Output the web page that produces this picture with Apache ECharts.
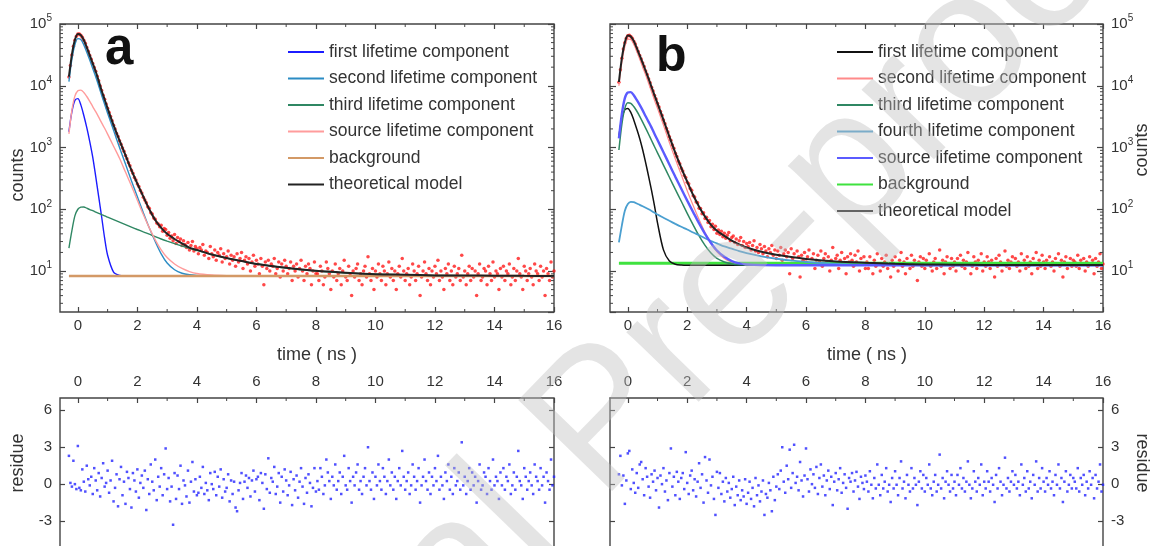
<!DOCTYPE html>
<html>
<head>
<meta charset="utf-8">
<script src="https://cdn.jsdelivr.net/npm/echarts@6/dist/echarts.min.js"></script>
<style>
  html, body { margin: 0; padding: 0; background: #fff; }
  #chart { width: 1155px; height: 546px; }
</style>
</head>
<body>
<div id="chart"></div>
<script>
// ---- axis values and tick labels ----
const TIME_MAJOR = [0, 2, 4, 6, 8, 10, 12, 14, 16];
const TIME_MINOR = [1, 3, 5, 7, 9, 11, 13, 15];
const COUNT_EXP = ['1', '2', '3', '4', '5'];
const COUNT_MINOR = [3, 4, 5, 6, 7, 8, 9, 20, 30, 40, 50, 60, 70, 80, 90,
  200, 300, 400, 500, 600, 700, 800, 900, 2000, 3000, 4000, 5000, 6000, 7000, 8000, 9000,
  20000, 30000, 40000, 50000, 60000, 70000, 80000, 90000];
const RESIDUE_TICKS = [-6, -3, 0, 3, 6];

const LEGEND_A = ['first lifetime component', 'second lifetime component', 'third lifetime component',
  'source lifetime component', 'background', 'theoretical model'];
const LEGEND_B = ['first lifetime component', 'second lifetime component', 'third lifetime component',
  'fourth lifetime component', 'source lifetime component', 'background', 'theoretical model'];

// ---- fitted curves (counts), sampled at CURVE_T (ns) ----
const CURVE_T = [-0.3, -0.2, -0.1, 0, 0.1, 0.2, 0.3, 0.4, 0.5, 0.6, 0.7, 0.8, 0.9, 1.0,
  1.2, 1.4, 1.6, 1.8, 2.0, 2.2, 2.4, 2.6, 2.8, 3.0, 3.25, 3.5, 3.75, 4.0,
  4.5, 5, 5.5, 6, 7, 8, 9, 10, 11, 12, 13, 14, 15, 16];
const BG_T = [-0.3, 16];

const A_FIRST = [1800, 3800, 5800, 6200, 4900, 3300, 2100, 1250, 700, 340, 160, 75, 34, 18,
  9.6, 8.5, 8.32, 8.3, 8.3, 8.3, 8.3, 8.3, 8.3, 8.3, 8.3, 8.3, 8.3, 8.3,
  8.3, 8.3, 8.3, 8.3, 8.3, 8.3, 8.3, 8.3, 8.3, 8.3, 8.3, 8.3, 8.3, 8.3];
const A_SECOND = [11700, 27000, 46000, 58000, 56000, 46000, 35000, 26000, 19000, 14000, 10000, 7000, 5000, 3600,
  1900, 1000, 540, 290, 160, 88, 50, 30, 19, 13.5, 10.5, 9.2, 8.7, 8.5,
  8.35, 8.3, 8.3, 8.3, 8.3, 8.3, 8.3, 8.3, 8.3, 8.3, 8.3, 8.3, 8.3, 8.3];
const A_THIRD = [23.5, 45, 78, 100, 108, 109, 104, 99, 95, 90, 86, 82, 78, 74.5,
  68, 62, 56.5, 51.5, 47, 43, 39.5, 36, 33, 30.5, 27.8, 25.4, 23.3, 21.5,
  18.5, 16.2, 14.5, 13.1, 11.2, 10.0, 9.3, 8.9, 8.65, 8.5, 8.42, 8.37, 8.34, 8.32];
const A_SOURCE = [1660, 4000, 6800, 8300, 8500, 7800, 6700, 5600, 4600, 3800, 3100, 2500, 2050, 1650,
  1050, 670, 400, 240, 140, 82, 50, 32, 22, 16.5, 13, 11, 9.8, 9.1,
  8.6, 8.4, 8.33, 8.3, 8.3, 8.3, 8.3, 8.3, 8.3, 8.3, 8.3, 8.3, 8.3, 8.3];
const A_BACKGROUND = [8.3, 8.3];
const A_MODEL = [14000, 32000, 55000, 69000, 66000, 55000, 42000, 31000, 23000, 17000, 12000, 8300, 6000, 4300,
  2300, 1300, 750, 430, 260, 160, 100, 67, 50, 40, 33, 28, 24, 22,
  18.5, 16.2, 14.5, 13, 11.3, 10.1, 9.4, 8.9, 8.7, 8.5, 8.45, 8.4, 8.35, 8.32];

const B_FIRST = [1500, 3000, 4100, 4300, 3700, 2800, 2000, 1400, 920, 570, 340, 200, 112, 60,
  22, 14.5, 12.9, 12.5, 12.4, 12.4, 12.4, 12.4, 12.4, 12.4, 12.4, 12.4, 12.4, 12.4,
  12.4, 12.4, 12.4, 12.4, 12.4, 12.4, 12.4, 12.4, 12.4, 12.4, 12.4, 12.4, 12.4, 12.4];
const B_SECOND = [10000, 24000, 43000, 57000, 56000, 47000, 36000, 27000, 20000, 15000, 11000, 8000, 5800, 4300,
  2300, 1200, 650, 360, 200, 115, 68, 42, 28, 20.5, 16, 14, 13.1, 12.7,
  12.45, 12.4, 12.4, 12.4, 12.4, 12.4, 12.4, 12.4, 12.4, 12.4, 12.4, 12.4, 12.4, 12.4];
const B_THIRD = [910, 2400, 4300, 5300, 5200, 4600, 3900, 3200, 2580, 2060, 1640, 1300, 1030, 820,
  520, 330, 210, 135, 86, 56, 37, 26, 19.5, 16, 14, 13, 12.6, 12.5,
  12.4, 12.4, 12.4, 12.4, 12.4, 12.4, 12.4, 12.4, 12.4, 12.4, 12.4, 12.4, 12.4, 12.4];
const B_FOURTH = [29, 55, 95, 122, 132, 131, 124, 118, 112, 106, 100, 94, 88, 82,
  73, 65, 58, 52, 47, 42, 38, 34, 30.5, 28, 25, 23, 21, 19.5,
  17.3, 15.8, 14.8, 14, 13.1, 12.7, 12.5, 12.4, 12.4, 12.4, 12.4, 12.4, 12.4, 12.4];
const B_SOURCE = [1400, 3500, 6300, 7800, 7900, 7000, 5900, 4900, 4000, 3200, 2600, 2100, 1650, 1320,
  840, 530, 335, 215, 138, 90, 59, 40, 28.5, 21.5, 17, 14.5, 13.3, 12.8,
  12.45, 12.4, 12.4, 12.4, 12.4, 12.4, 12.4, 12.4, 12.4, 12.4, 12.4, 12.4, 12.4, 12.4];
const B_BACKGROUND = [13.3, 13.3];
const B_MODEL = [11500, 28000, 50000, 65000, 63000, 53000, 41000, 31000, 23500, 17500, 13000, 9500, 7000, 5200,
  2800, 1500, 820, 470, 280, 170, 110, 76, 56, 45, 37, 31, 27, 24,
  20.5, 18.3, 16.8, 15.7, 14.3, 13.6, 13.1, 12.8, 12.65, 12.55, 12.5, 12.5, 12.5, 12.5];

// ---- measured spectra: one value per channel, channels start at -0.3 ns, 0.05 ns wide ----
const CHANNEL_START = -0.3;
const CHANNEL_WIDTH = 0.05;

const COUNTS_A = [
  13800, 21300, 31600, 43500, 54800, 63300, 68700, 68900, 65700, 61200,
  54800, 48700, 41800, 36200, 30900, 26800, 22900, 19700, 17100, 14200,
  12100, 9950, 8350, 7050, 6020, 5080, 4330, 3680, 3190, 2720,
  2290, 1990, 1690, 1510, 1290, 1130, 980, 870, 745, 655,
  565, 505, 428, 384, 326, 298, 257, 234, 201, 183,
  157, 141, 128, 110, 104, 88, 84, 72, 69, 60,
  58, 52, 55, 44, 49, 47, 38,
  42, 34, 37, 31, 39, 28, 35, 30, 33, 26,
  31, 27, 24, 29, 22, 26, 30, 21, 25, 23,
  19, 24, 22, 27, 18, 21, 20, 16, 25, 19,
  17, 22, 15, 20, 18, 23, 14, 19, 16, 17,
  21, 13, 18, 15, 17, 12, 19, 14, 16, 20,
  11, 15, 17, 13, 16, 10, 14, 18, 12, 15,
  13, 9, 16, 12, 6, 14, 11, 15, 10, 13,
  12, 16, 9, 11, 14, 8, 13, 10, 15, 12,
  9, 11, 14, 7, 12, 10, 13, 8, 11, 15,
  10, 7, 12, 9, 13, 11, 6, 10, 14, 9,
  9, 7, 12, 10, 6, 8, 14, 11, 9, 5, 10, 8, 13, 7, 9, 11, 6, 10, 15, 8,
  7, 12, 9, 4, 10, 8, 11, 13, 7, 9, 6, 10, 12, 8, 17, 9, 7, 11, 5, 10,
  8, 13, 9, 7, 12, 10, 6, 9, 14, 8, 11, 7, 10, 5, 9, 12, 8, 16, 10, 7,
  9, 11, 6, 8, 13, 10, 7, 9, 12, 4, 8, 10, 14, 9, 7, 11, 6, 10, 8, 12,
  9, 15, 7, 10, 8, 5, 11, 9, 13, 7, 10, 6, 12, 8, 9, 11, 7, 18, 8, 10,
  6, 9, 12, 7, 11, 8, 10, 4, 9, 13, 7, 8, 11, 10, 6, 12, 9, 7, 14, 8,
  10, 9, 5, 11, 8, 12, 7, 10, 9, 13, 6, 8, 11, 7, 10, 16, 9, 8, 5, 12,
  10, 7, 9, 11, 8, 6, 13, 10, 9, 7, 12, 8, 10, 4, 11, 9, 7, 14, 8, 10
];
const COUNTS_B = [
  11400, 18200, 27800, 39300, 49600, 58900, 64700, 65800, 62600, 58800,
  52700, 47300, 40800, 35900, 30800, 27200, 23300, 20500, 17300, 15200,
  12900, 11200, 9420, 8230, 6960, 6110, 5170, 4540, 3820, 3330,
  2780, 2430, 2030, 1780, 1490, 1310, 1100, 970, 810, 715,
  600, 545, 462, 418, 352, 327, 274, 258, 216, 203,
  165, 158, 131, 127, 104, 103, 85, 88, 71, 74,
  61, 66, 52, 57, 47, 53, 41,
  46, 39, 44, 36, 41, 34, 38, 42, 31, 35,
  37, 29, 33, 27, 31, 35, 26, 30, 24, 28,
  25, 29, 22, 26, 31, 21, 24, 20, 27, 23,
  19, 25, 21, 17, 23, 20, 26, 18, 22, 16,
  21, 18, 24, 15, 19, 22, 17, 20, 9, 23,
  16, 19, 13, 21, 17, 8, 18, 15, 20, 14,
  17, 22, 13, 16, 19, 11, 15, 18, 14, 21,
  12, 16, 19, 14, 17, 10, 15, 24, 13, 16,
  18, 11, 15, 20, 13, 16, 9, 17, 14, 19,
  15, 12, 18, 14, 21, 10, 16, 13, 17, 11,
  14, 11, 17, 13, 9, 15, 12, 19, 13, 10, 16, 12, 14, 18, 11, 13, 8, 15, 12, 17,
  13, 10, 15, 20, 12, 14, 9, 16, 13, 11, 18, 12, 15, 13, 7, 14, 17, 12, 16, 11,
  15, 13, 19, 12, 10, 14, 16, 11, 13, 22, 12, 15, 9, 14, 17, 13, 11, 16, 12, 14,
  10, 16, 13, 18, 12, 15, 11, 14, 20, 13, 9, 12, 17, 14, 11, 15, 13, 19, 10, 14,
  12, 17, 14, 11, 15, 13, 8, 16, 12, 18, 14, 10, 13, 21, 12, 15, 11, 14, 17, 13,
  16, 12, 14, 10, 19, 13, 15, 11, 17, 12, 14, 9, 16, 13, 20, 11, 15, 12, 18, 14,
  11, 15, 13, 17, 12, 14, 10, 16, 13, 19, 12, 15, 8, 14, 17, 11, 13, 16, 12, 15,
  14, 12, 18, 11, 15, 13, 16, 10, 14, 12, 17, 13, 15, 9, 16, 12, 14, 19, 11, 13
];

// ---- weighted residues of the fits, same channels ----
const RESIDUE_A = [
  2.3, 0.1, -0.2, 1.9, 0.0, -0.4, 3.1, -0.3, -0.5, 1.2,
  0.2, -0.6, 1.5, 0.4, -0.1, 0.6, -0.8, 1.3, 0.3, -0.5,
  0.9, -1.0, 0.5, 1.7, -0.2, 0.1, 1.1, -0.7, 0.3, 1.9,
  -1.4, -0.3, 0.8, -1.8, 0.4, 1.4, -0.9, 0.2, -1.6, 1.0,
  0.5, -0.4, -1.9, 0.9, 0.3, -0.6, 1.2, -1.1, 0.1, 0.7,
  -0.3, 1.1, -2.1, 0.4, -0.8, 1.6, 0.2, -0.5, 2.0, -1.3,
  0.6, -0.2, 1.3, -0.9, 0.8, 2.9, -0.4,
  0.5, -1.4, -0.2, -3.3, 0.9, -1.2, 0.7, -0.4, 1.5, -1.6,
  0.3, -0.1, -1.0, 1.1, -1.5, 0.2, 1.8, -0.6, 0.4, -0.9,
  -0.7, 0.6, -0.3, 1.4, -0.8, 0.1, -0.5, -1.3, 0.9, 0.0,
  -0.4, 1.0, -0.9, 0.6, -0.2, 1.2, -1.1, 0.4, -0.6, -0.3,
  0.8, -1.4, 0.3, -0.8, 0.2, -1.9, -2.2, -0.5, 0.1, 0.9,
  -1.2, 0.2, 0.7, -0.3, 0.5, -1.0, 0.3, 1.1, -0.6, 0.4,
  0.6, -1.3, 0.9, 0.1, -2.0, 0.8, -0.4, 2.1, -0.7, 0.5,
  0.2, 1.4, -0.8, -0.2, 0.9, -1.5, 0.6, -0.6, 1.2, 0.3,
  -0.9, -0.1, 1.0, -1.7, 0.4, -0.5, 0.7, -1.1, 0.2, 1.3,
  -0.2, -1.6, 0.5, -0.7, 0.8, 0.1, -1.8, -0.3, 1.3, -0.6,
  0.25, -0.45, 1.3, 0.6, -0.8, -0.1, 2.0, 0.95, 0.25, -1.2, 0.6, -0.1, 1.6, -0.45, 0.25, 0.95, -0.8, 0.6, 2.3, -0.1,
  -0.45, 1.3, 0.25, -1.5, 0.6, -0.1, 0.95, 1.6, -0.45, 0.25, -0.8, 0.6, 1.3, -0.1, 3.0, 0.25, -0.45, 0.95, -1.2, 0.6,
  -0.1, 1.6, 0.25, -0.45, 1.3, 0.6, -0.8, 0.25, 2.0, -0.1, 0.95, -0.45, 0.6, -1.2, 0.25, 1.3, -0.1, 2.7, 0.6, -0.45,
  0.25, 0.95, -0.8, -0.1, 1.6, 0.6, -0.45, 0.25, 1.3, -1.5, -0.1, 0.6, 2.0, 0.25, -0.45, 0.95, -0.8, 0.6, -0.1, 1.3,
  0.25, 2.3, -0.45, 0.6, -0.1, -1.2, 0.95, 0.25, 1.6, -0.45, 0.6, -0.8, 1.3, -0.1, 0.25, 0.95, -0.45, 3.4, -0.1, 0.6,
  -0.8, 0.25, 1.3, -0.45, 0.95, -0.1, 0.6, -1.5, 0.25, 1.6, -0.45, -0.1, 0.95, 0.6, -0.8, 1.3, 0.25, -0.45, 2.0, -0.1,
  0.6, 0.25, -1.2, 0.95, -0.1, 1.3, -0.45, 0.6, 0.25, 1.6, -0.8, -0.1, 0.95, -0.45, 0.6, 2.7, 0.25, -0.1, -1.2, 1.3,
  0.6, -0.45, 0.25, 0.95, -0.1, -0.8, 1.6, 0.6, 0.25, -0.45, 1.3, -0.1, 0.6, -1.5, 0.95, 0.25, -0.45, 2.0, -0.1, 0.6
];
const RESIDUE_B = [
  0.8, 2.3, -0.1, 0.7, -1.6, 0.3, 2.5, 2.7, -0.4, 1.2,
  0.1, -0.7, 0.9, -0.3, 1.6, 1.8, 0.4, -0.9, 1.3, 0.6,
  -0.2, -1.1, 0.8, 0.2, 1.1, -0.5, 0.5, -1.9, 0.7, 0.0,
  1.3, -0.6, 0.3, -1.3, 0.9, 2.9, -0.2, 0.6, -0.9, 1.0,
  0.2, -1.2, 0.5, 0.9, -0.4, 2.6, 0.1, -0.8, 0.7, 1.1,
  -0.5, 0.4, -1.0, 0.2, 1.7, -0.3, 0.8, -1.5, 2.2, 0.3,
  -0.7, 2.0, -0.1, 0.6, -1.2, -2.5, 1.0,
  -0.3, 0.9, -0.8, 0.2, -1.4, 0.5, -0.6, 0.1, -1.1, -0.4,
  0.6, -1.7, -0.2, -0.9, 0.3, -1.3, -0.5, -1.0, 0.4, -1.6,
  -0.7, 0.2, -1.2, -0.3, -1.8, 0.5, -0.9, -0.1, -1.4, -0.6,
  0.3, -2.5, -0.8, -1.1, 0.1, -0.5, -2.2, 0.6, -1.3, -0.2,
  0.8, -0.4, 1.1, 3.0, 0.2, -0.7, 1.5, 0.4, 2.8, -0.3,
  0.9, 3.2, 0.1, 0.6, -0.5, 1.8, 0.3, -1.0, 0.7, 2.9,
  0.4, -0.6, 1.2, 0.0, 0.8, -0.3, 1.4, -0.8, 0.5, 1.6,
  -0.2, 0.7, -0.9, 0.3, 1.1, -0.4, 0.6, -1.7, 0.2, 0.9,
  -0.5, 0.4, 1.3, -0.7, 0.1, 0.8, -0.3, -2.0, 0.5, 0.2,
  0.9, -0.6, 0.3, 1.0, -0.2, -1.2, 0.6, 0.1, -0.4, 0.7,
  0.2, -0.6, 1.05, -0.05, -1.15, 0.5, -0.35, 1.6, -0.05, -0.9, 0.75, -0.35, 0.2, 1.3, -0.6, -0.05, -1.45, 0.5, -0.35, 1.05,
  -0.05, -0.9, 0.5, 1.85, -0.35, 0.2, -1.15, 0.75, -0.05, -0.6, 1.3, -0.35, 0.5, -0.05, -1.7, 0.2, 1.05, -0.35, 0.75, -0.6,
  0.5, -0.05, 1.6, -0.35, -0.9, 0.2, 0.75, -0.6, -0.05, 2.4, -0.35, 0.5, -1.15, 0.2, 1.05, -0.05, -0.6, 0.75, -0.35, 0.2,
  -0.9, 0.75, -0.05, 1.3, -0.35, 0.5, -0.6, 0.2, 1.85, -0.05, -1.15, -0.35, 1.05, 0.2, -0.6, 0.5, -0.05, 1.6, -0.9, 0.2,
  -0.35, 1.05, 0.2, -0.6, 0.5, -0.05, -1.45, 0.75, -0.35, 1.3, 0.2, -0.9, -0.05, 2.15, -0.35, 0.5, -0.6, 0.2, 1.05, -0.05,
  0.75, -0.35, 0.2, -0.9, 1.6, -0.05, 0.5, -0.6, 1.05, -0.35, 0.2, -1.15, 0.75, -0.05, 1.85, -0.6, 0.5, -0.35, 1.3, 0.2,
  -0.6, 0.5, -0.05, 1.05, -0.35, 0.2, -0.9, 0.75, -0.05, 1.6, -0.35, 0.5, -1.45, 0.2, 1.05, -0.6, -0.05, 0.75, -0.35, 0.5,
  0.2, -0.35, 1.3, -0.6, 0.5, -0.05, 0.75, -0.9, 0.2, -0.35, 1.05, -0.05, 0.5, -1.15, 0.75, -0.35, 0.2, 1.6, -0.6, -0.05
];

// ---- drawing ----
const FONT = '"Liberation Sans", Arial, Helvetica, sans-serif';
const INK = '#333';
const FRAME = '#444';
const T_MIN = -0.6, T_MAX = 16;
const COUNT_MIN = 2.17, COUNT_MAX = 100000;
const RES_MIN = -6, RES_MAX = 7;
const TICK_FONT = 15;

const chart = echarts.init(document.getElementById('chart'), null, { renderer: 'canvas' });

const curve = (ts, vs) => ts.map((t, i) => [t, vs[i]]);
const channels = vs => vs.map((v, i) => [+(CHANNEL_START + i * CHANNEL_WIDTH).toFixed(2), v]);
const noLine = { show: false, onZero: false };

function timeAxis(grid, position, withLabels, margin) {
  return {
    type: 'value', gridIndex: grid, position, min: T_MIN, max: T_MAX,
    axisLine: noLine, splitLine: { show: false },
    axisTick: { show: true, inside: true, length: 5, customValues: TIME_MAJOR, lineStyle: { color: FRAME, width: 1.2 } },
    axisLabel: { show: withLabels, customValues: TIME_MAJOR, margin, fontSize: TICK_FONT, color: INK, fontFamily: FONT }
  };
}
function countAxis(grid, position, withLabels) {
  return {
    type: 'log', logBase: 10, gridIndex: grid, position, min: COUNT_MIN, max: COUNT_MAX,
    axisLine: noLine, splitLine: { show: false },
    axisTick: { show: true, inside: true, length: 6, lineStyle: { color: FRAME, width: 1.2 } },
    axisLabel: {
      show: withLabels, showMinLabel: false, margin: 8, fontSize: TICK_FONT, lineHeight: 21,
      color: INK, fontFamily: FONT,
      formatter: v => {
        const e = COUNT_EXP[Math.round(Math.log10(v)) - 1];
        return e ? '10{s|' + e + '}' : '';
      },
      rich: { s: { fontSize: 10, verticalAlign: 'top', color: INK, fontFamily: FONT } }
    }
  };
}
function residueAxis(grid, position, withLabels) {
  return {
    type: 'value', gridIndex: grid, position, min: RES_MIN, max: RES_MAX,
    axisLine: noLine, splitLine: { show: false },
    axisTick: { show: true, inside: true, length: 5, customValues: RESIDUE_TICKS, lineStyle: { color: FRAME, width: 1.2 } },
    axisLabel: { show: withLabels, customValues: RESIDUE_TICKS, margin: 8, fontSize: TICK_FONT, color: INK, fontFamily: FONT }
  };
}

// short inward ticks: odd ns on top/bottom edges, 2..9 x 10^k on left/right edges
function minorTicks(xi, yi, anchorY, yValues) {
  const data = TIME_MINOR.map(v => [v, anchorY, 0]).concat(yValues.map(v => [0, v, 1]));
  return {
    type: 'custom', xAxisIndex: xi, yAxisIndex: yi, silent: true, z: 4, clip: false, data,
    renderItem(params, api) {
      const cs = params.coordSys;
      const p = api.coord([api.value(0), api.value(1)]);
      const st = { stroke: FRAME, lineWidth: 1 };
      if (api.value(2) === 0) {
        return { type: 'group', children: [
          { type: 'line', shape: { x1: p[0], y1: cs.y, x2: p[0], y2: cs.y + 3 }, style: st },
          { type: 'line', shape: { x1: p[0], y1: cs.y + cs.height, x2: p[0], y2: cs.y + cs.height - 3 }, style: st }
        ] };
      }
      return { type: 'group', children: [
        { type: 'line', shape: { x1: cs.x, y1: p[1], x2: cs.x + 3, y2: p[1] }, style: st },
        { type: 'line', shape: { x1: cs.x + cs.width, y1: p[1], x2: cs.x + cs.width - 3, y2: p[1] }, style: st }
      ] };
    }
  };
}

function fitLine(panel, name, xi, yi, ts, vs, color, width) {
  return {
    type: 'line', name: panel + '|' + name, xAxisIndex: xi, yAxisIndex: yi,
    data: curve(ts, vs), symbol: 'none', showSymbol: false, smooth: 0.3, silent: true, z: 3,
    lineStyle: { color, width }, itemStyle: { color }
  };
}

const legendBase = {
  orient: 'vertical', itemWidth: 36, itemHeight: 16, itemGap: 8.5, padding: 0, selectedMode: false,
  itemStyle: { opacity: 0 },
  textStyle: { fontSize: 17.5, color: INK, fontFamily: FONT },
  formatter: n => n.split('|')[1]
};

const option = {
  animation: false,
  backgroundColor: '#fff',
  grid: [
    { left: 60, top: 24, width: 494, height: 288 },
    { left: 610, top: 24, width: 493, height: 288 },
    { left: 60, top: 398, width: 494, height: 160 },
    { left: 610, top: 398, width: 493, height: 160 }
  ].map(g => Object.assign({ show: true, borderColor: FRAME, borderWidth: 1.4, backgroundColor: 'transparent',
    outerBoundsMode: 'none', containLabel: false }, g)),
  xAxis: [
    timeAxis(0, 'bottom', true, 6), timeAxis(0, 'top', false, 6),
    timeAxis(1, 'bottom', true, 6), timeAxis(1, 'top', false, 6),
    timeAxis(2, 'top', true, 9), timeAxis(2, 'bottom', false, 6),
    timeAxis(3, 'top', true, 9), timeAxis(3, 'bottom', false, 6)
  ],
  yAxis: [
    countAxis(0, 'left', true), countAxis(0, 'right', false),
    countAxis(1, 'right', true), countAxis(1, 'left', false),
    residueAxis(2, 'left', true), residueAxis(2, 'right', false),
    residueAxis(3, 'right', true), residueAxis(3, 'left', false)
  ],
  legend: [
    Object.assign({ left: 287, top: 43, data: LEGEND_A.map(n => 'a|' + n) }, legendBase),
    Object.assign({ left: 836, top: 43, data: LEGEND_B.map(n => 'b|' + n) }, legendBase)
  ],
  series: [
    // panel a
    { type: 'scatter', xAxisIndex: 0, yAxisIndex: 0, data: channels(COUNTS_A), symbol: 'circle',
      symbolSize: 3.5, itemStyle: { color: '#ff1a1a' }, silent: true, z: 2 },
    fitLine('a', LEGEND_A[0], 0, 0, CURVE_T, A_FIRST, '#1c1cff', 1.4),
    fitLine('a', LEGEND_A[1], 0, 0, CURVE_T, A_SECOND, '#2b8cc4', 1.4),
    fitLine('a', LEGEND_A[2], 0, 0, CURVE_T, A_THIRD, '#2f8763', 1.4),
    fitLine('a', LEGEND_A[3], 0, 0, CURVE_T, A_SOURCE, '#ff9c9c', 1.4),
    fitLine('a', LEGEND_A[4], 0, 0, BG_T, A_BACKGROUND, '#d39966', 2.6),
    fitLine('a', LEGEND_A[5], 0, 0, CURVE_T, A_MODEL, '#222222', 2),
    minorTicks(0, 0, 100, COUNT_MINOR),
    // panel b
    { type: 'scatter', xAxisIndex: 2, yAxisIndex: 2, data: channels(COUNTS_B), symbol: 'circle',
      symbolSize: 3.5, itemStyle: { color: '#ff1a1a' }, silent: true, z: 2 },
    fitLine('b', LEGEND_B[5], 2, 2, BG_T, B_BACKGROUND, '#3fe23f', 3),
    fitLine('b', LEGEND_B[0], 2, 2, CURVE_T, B_FIRST, '#111111', 1.5),
    fitLine('b', LEGEND_B[1], 2, 2, CURVE_T, B_SECOND, '#ff8a8a', 1.2),
    fitLine('b', LEGEND_B[2], 2, 2, CURVE_T, B_THIRD, '#2f8763', 1.5),
    fitLine('b', LEGEND_B[3], 2, 2, CURVE_T, B_FOURTH, '#4a9fd0', 1.8),
    fitLine('b', LEGEND_B[4], 2, 2, CURVE_T, B_SOURCE, '#5b5bff', 2.4),
    fitLine('b', LEGEND_B[6], 2, 2, CURVE_T, B_MODEL, '#222222', 2),
    minorTicks(2, 2, 100, COUNT_MINOR),
    // residues
    { type: 'scatter', xAxisIndex: 4, yAxisIndex: 4, data: channels(RESIDUE_A), symbol: 'rect',
      symbolSize: 2.5, itemStyle: { color: '#2424ff' }, silent: true },
    minorTicks(4, 4, 0, []),
    { type: 'scatter', xAxisIndex: 6, yAxisIndex: 6, data: channels(RESIDUE_B), symbol: 'rect',
      symbolSize: 2.5, itemStyle: { color: '#2424ff' }, silent: true },
    minorTicks(6, 6, 0, [])
  ],
  graphic: [
    { type: 'text', x: 105, y: 50, silent: true,
      style: { text: 'a', font: 'bold 51px ' + FONT, fill: '#111', align: 'left', verticalAlign: 'middle' } },
    { type: 'text', x: 656, y: 57, silent: true,
      style: { text: 'b', font: 'bold 50px ' + FONT, fill: '#111', align: 'left', verticalAlign: 'middle' } },
    { type: 'text', x: 317, y: 355, silent: true,
      style: { text: 'time ( ns )', font: '18px ' + FONT, fill: INK, align: 'center', verticalAlign: 'middle' } },
    { type: 'text', x: 867, y: 355, silent: true,
      style: { text: 'time ( ns )', font: '18px ' + FONT, fill: INK, align: 'center', verticalAlign: 'middle' } },
    { type: 'text', x: 18, y: 175, rotation: Math.PI / 2, silent: true,
      style: { text: 'counts', font: '18px ' + FONT, fill: INK, align: 'center', verticalAlign: 'middle' } },
    { type: 'text', x: 1142, y: 150, rotation: Math.PI / 2, silent: true,
      style: { text: 'counts', font: '18px ' + FONT, fill: INK, align: 'center', verticalAlign: 'middle' } },
    { type: 'text', x: 18, y: 463, rotation: Math.PI / 2, silent: true,
      style: { text: 'residue', font: '18px ' + FONT, fill: INK, align: 'center', verticalAlign: 'middle' } },
    { type: 'text', x: 1142, y: 463, rotation: -Math.PI / 2, silent: true,
      style: { text: 'residue', font: '18px ' + FONT, fill: INK, align: 'center', verticalAlign: 'middle' } },
    // journal watermark across the figure
    { type: 'text', x: 604, y: 424, rotation: 0.8, silent: true, z: 100,
      style: { text: 'Journal Pre-proof', font: '190px ' + FONT, fill: 'rgba(190,190,190,0.42)',
        align: 'center', verticalAlign: 'middle' } }
  ]
};

chart.setOption(option);
</script>
</body>
</html>
